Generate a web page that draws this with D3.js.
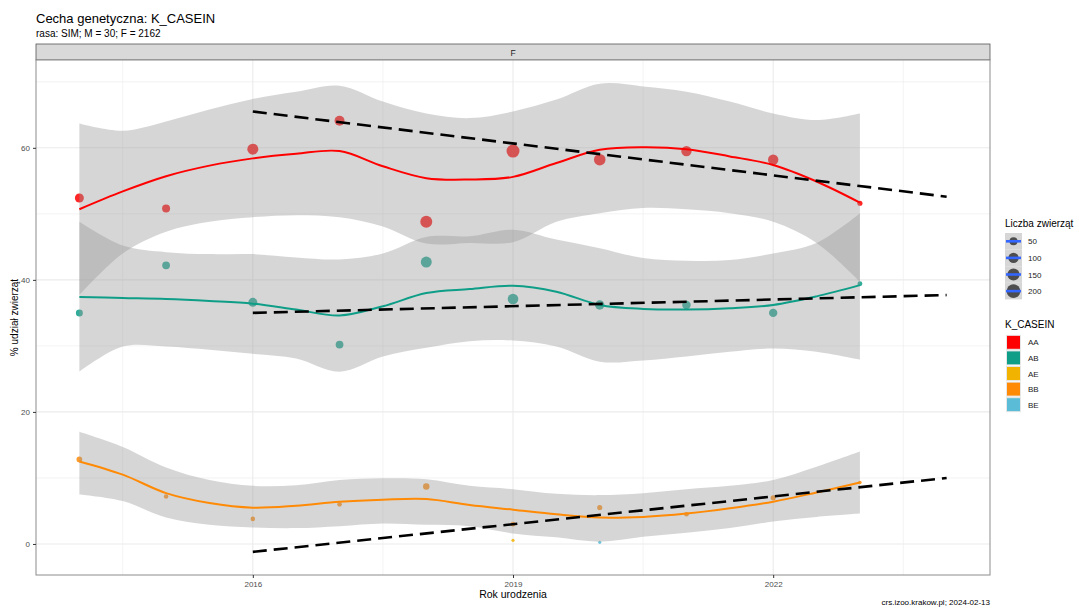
<!DOCTYPE html>
<html>
<head>
<meta charset="utf-8">
<script src="https://cdn.jsdelivr.net/npm/d3@7"></script>
<style>
  html, body { margin: 0; padding: 0; background: #fff; }
  svg { display: block; font-family: "Liberation Sans", Arial, sans-serif; }
</style>
</head>
<body>
<svg id="chart" width="1079" height="608"></svg>
<script>
// ---- data ----
const years = [2014, 2015, 2016, 2017, 2018, 2019, 2020, 2021, 2022, 2023];
const genotypes = ["AA", "AB", "AE", "BB", "BE"];
const genoColors = ["#FF0000", "#0E9E88", "#F2B200", "#FF8A05", "#5BBCD8"];

// yearly share (%) and head count per genotype
const pctAA = [52.4, 50.8, 59.8, 64.1, 48.8, 59.5, 58.2, 59.5, 58.2, 51.6];
const nAA   = [68, 49, 115, 90, 144, 175, 132, 100, 100, 12];
const pctAB = [35.0, 42.2, 36.6, 30.2, 42.7, 37.1, 36.2, 36.2, 35.0, 39.4];
const nAB   = [33, 45, 68, 45, 115, 105, 76, 58, 56, 10];
const pctBB = [12.8, 7.2, 3.8, 6.0, 8.7, 3.0, 5.5, 4.5, 7.0, 9.3];
const nBB   = [17, 7, 7, 8, 26, 9, 12, 8, 12, 2];
const yearsAE = [2019];
const pctAE = [0.55];
const nAE   = [1];
const yearsBE = [2020];
const pctBE = [0.25];
const nBE   = [1];

// loess fits with confidence band, evaluated every half year
const smoothX = [2014, 2014.5, 2015, 2015.5, 2016, 2016.5, 2017, 2017.5, 2018, 2018.5,
                 2019, 2019.5, 2020, 2020.5, 2021, 2021.5, 2022, 2022.5, 2023];
const fitAA = [50.7, 53.4, 55.7, 57.3, 58.4, 59.1, 59.5, 57.2, 55.4, 55.2,
               55.6, 57.7, 59.7, 60.1, 59.8, 58.7, 57.4, 54.9, 51.7];
const hiAA  = [63.7, 62.6, 64.0, 65.8, 67.4, 68.5, 69.4, 67.0, 65.2, 64.5,
               65.5, 67.3, 69.7, 69.3, 68.5, 67.0, 65.2, 64.2, 65.2];
const loAA  = [37.7, 44.0, 47.3, 48.8, 49.5, 49.8, 49.5, 48.1, 45.5, 45.6,
               45.7, 48.8, 50.1, 50.9, 50.7, 50.1, 48.8, 45.6, 39.7];
const fitAB = [37.4, 37.25, 37.1, 36.8, 36.4, 35.5, 34.6, 36.0, 38.0, 38.6,
               39.1, 38.2, 36.2, 35.6, 35.5, 35.7, 36.2, 37.5, 39.2];
const hiAB  = [48.8, 45.2, 44.2, 43.9, 43.9, 43.4, 43.1, 44.0, 46.5, 46.6,
               47.6, 46.1, 44.8, 43.3, 42.9, 43.0, 44.0, 45.6, 50.1];
const loAB  = [26.1, 29.9, 29.9, 29.4, 28.8, 28.1, 26.1, 28.4, 29.7, 30.7,
               30.8, 29.9, 27.6, 27.8, 28.4, 29.1, 29.6, 29.1, 27.9];
const fitBB = [12.5, 10.5, 7.7, 6.2, 5.5, 5.8, 6.4, 6.7, 6.8, 5.9,
               5.2, 4.5, 4.0, 4.1, 4.6, 5.4, 6.4, 7.8, 9.3];
const hiBB  = [17.0, 14.7, 11.6, 9.7, 8.8, 8.9, 9.7, 9.95, 9.8, 8.8,
               8.3, 7.6, 7.4, 7.7, 8.3, 8.8, 9.7, 11.7, 14.0];
const loBB  = [7.5, 6.5, 4.0, 2.9, 2.5, 2.4, 2.7, 3.1, 2.9, 2.7,
               1.6, 1.0, 0.35, 1.1, 1.7, 2.4, 3.4, 4.1, 4.6];

// linear trends (dashed)
const trendX  = [2016, 2024];
const trendAA = [65.5, 52.6];
const trendAB = [35.0, 37.7];
const trendBB = [-1.2, 10.0];

// axes
const xTicks = [2016, 2019, 2022];
const xMinor = [2014.5, 2017.5, 2020.5, 2023.5];
const yTicks = [0, 20, 40, 60];
const yMinor = [10, 30, 50, 70];
const sizeBreaks = [50, 100, 150, 200];

// ---- layout ----
const svg = d3.select("#chart");
const P = { left: 36, right: 990, top: 60, bottom: 575 };
const x = d3.scaleLinear().domain([2013.5, 2024.5]).range([P.left, P.right]);
const y = d3.scaleLinear().domain([-4.7, 73.3]).range([P.bottom, P.top]);
const r = d3.scaleSqrt().domain([0, 210]).range([1.2, 7]);
const smoothCurve = d3.curveCatmullRom.alpha(0.5);

// titles
svg.append("text").attr("x", 36).attr("y", 23).attr("font-size", 13)
  .attr("fill", "#000").text("Cecha genetyczna: K_CASEIN");
svg.append("text").attr("x", 36).attr("y", 37).attr("font-size", 10)
  .attr("fill", "#000").text("rasa: SIM; M = 30; F = 2162");

// facet strip
svg.append("rect").attr("x", P.left).attr("y", 44).attr("width", P.right - P.left)
  .attr("height", 16).attr("fill", "#D9D9D9").attr("stroke", "#555").attr("stroke-width", 0.8);
svg.append("text").attr("x", (P.left + P.right) / 2).attr("y", 55.5).attr("font-size", 8.5)
  .attr("text-anchor", "middle").attr("fill", "#1A1A1A").text("F");

// panel background and grid
const plot = svg.append("g");
plot.append("rect").attr("x", P.left).attr("y", P.top).attr("width", P.right - P.left)
  .attr("height", P.bottom - P.top).attr("fill", "#fff");
const grid = plot.append("g").attr("stroke", "#EBEBEB");
grid.selectAll(".ym").data(yMinor).join("line")
  .attr("x1", P.left).attr("x2", P.right).attr("y1", d => y(d)).attr("y2", d => y(d)).attr("stroke-width", 0.6);
grid.selectAll(".xm").data(xMinor).join("line")
  .attr("y1", P.top).attr("y2", P.bottom).attr("x1", d => x(d)).attr("x2", d => x(d)).attr("stroke-width", 0.6);
grid.selectAll(".yM").data(yTicks).join("line")
  .attr("x1", P.left).attr("x2", P.right).attr("y1", d => y(d)).attr("y2", d => y(d)).attr("stroke-width", 1.1);
grid.selectAll(".xM").data(xTicks).join("line")
  .attr("y1", P.top).attr("y2", P.bottom).attr("x1", d => x(d)).attr("x2", d => x(d)).attr("stroke-width", 1.1);

// points (drawn beneath the confidence bands)
const pointSets = [
  { yrs: years, pct: pctAA, n: nAA, col: genoColors[0] },
  { yrs: years, pct: pctAB, n: nAB, col: genoColors[1] },
  { yrs: yearsAE, pct: pctAE, n: nAE, col: genoColors[2] },
  { yrs: years, pct: pctBB, n: nBB, col: genoColors[3] },
  { yrs: yearsBE, pct: pctBE, n: nBE, col: genoColors[4] }
];
const pts = plot.append("g");
pointSets.forEach(s => {
  pts.selectAll(null).data(s.yrs.map((yr, i) => ({ yr, v: s.pct[i], n: s.n[i] })))
    .join("circle")
    .attr("cx", d => x(d.yr)).attr("cy", d => y(d.v)).attr("r", d => r(d.n))
    .attr("fill", s.col).attr("fill-opacity", 0.85);
});

// confidence bands
const bands = [
  { hi: hiAA, lo: loAA }, { hi: hiAB, lo: loAB }, { hi: hiBB, lo: loBB }
];
const area = d3.area().x(d => x(d.x)).y0(d => y(d.lo)).y1(d => y(d.hi)).curve(smoothCurve);
bands.forEach(b => {
  plot.append("path")
    .datum(smoothX.map((sx, i) => ({ x: sx, lo: b.lo[i], hi: b.hi[i] })))
    .attr("d", area).attr("fill", "#999999").attr("fill-opacity", 0.4);
});

// smoothed lines
const line = d3.line().x(d => x(d.x)).y(d => y(d.v)).curve(smoothCurve);
[[fitAA, genoColors[0]], [fitAB, genoColors[1]], [fitBB, genoColors[3]]].forEach(([f, c]) => {
  plot.append("path").datum(smoothX.map((sx, i) => ({ x: sx, v: f[i] })))
    .attr("d", line).attr("fill", "none").attr("stroke", c).attr("stroke-width", 2);
});

// linear trends
const tline = d3.line().x(d => x(d.x)).y(d => y(d.v));
[trendAA, trendAB, trendBB].forEach(t => {
  plot.append("path").datum(trendX.map((tx, i) => ({ x: tx, v: t[i] })))
    .attr("d", tline).attr("fill", "none").attr("stroke", "#000")
    .attr("stroke-width", 2.6).attr("stroke-dasharray", "14,7");
});

// panel border
svg.append("rect").attr("x", P.left).attr("y", P.top).attr("width", P.right - P.left)
  .attr("height", P.bottom - P.top).attr("fill", "none").attr("stroke", "#8C8C8C").attr("stroke-width", 1);

// axes
const xAxis = svg.append("g").attr("transform", `translate(0,${P.bottom})`)
  .call(d3.axisBottom(x).tickValues(xTicks).tickFormat(d3.format("d")).tickSize(3).tickPadding(3));
const yAxis = svg.append("g").attr("transform", `translate(${P.left},0)`)
  .call(d3.axisLeft(y).tickValues(yTicks).tickSize(3).tickPadding(3));
[xAxis, yAxis].forEach(a => {
  a.select(".domain").remove();
  a.selectAll(".tick line").attr("stroke", "#333");
  a.selectAll(".tick text").attr("fill", "#4D4D4D").attr("font-size", 8)
    .attr("font-family", "Liberation Sans, Arial, sans-serif");
});

svg.append("text").attr("x", (P.left + P.right) / 2).attr("y", 598).attr("font-size", 10.5)
  .attr("text-anchor", "middle").attr("fill", "#000").text("Rok urodzenia");
svg.append("text").attr("transform", `translate(18,${(P.top + P.bottom) / 2}) rotate(-90)`)
  .attr("font-size", 10).attr("text-anchor", "middle").attr("fill", "#000").text("% udział zwierząt");

svg.append("text").attr("x", 990).attr("y", 605).attr("font-size", 8)
  .attr("text-anchor", "end").attr("fill", "#000").text("crs.izoo.krakow.pl; 2024-02-13");

// legend: head count
const lg1 = svg.append("g");
lg1.append("text").attr("x", 1005).attr("y", 227).attr("font-size", 10).attr("fill", "#000")
  .text("Liczba zwierząt");
const keyH = 16.6;
sizeBreaks.forEach((b, i) => {
  const ky = 233 + i * keyH;
  lg1.append("rect").attr("x", 1005).attr("y", ky).attr("width", 17).attr("height", keyH)
    .attr("fill", "#D6D6D6");
  lg1.append("circle").attr("cx", 1013.5).attr("cy", ky + keyH / 2).attr("r", r(b))
    .attr("fill", "#4D4D4D");
  lg1.append("line").attr("x1", 1006).attr("x2", 1021).attr("y1", ky + keyH / 2).attr("y2", ky + keyH / 2)
    .attr("stroke", "#3366FF").attr("stroke-width", 2.6);
  lg1.append("text").attr("x", 1028).attr("y", ky + keyH / 2 + 3).attr("font-size", 8)
    .attr("fill", "#1A1A1A").text(b);
});

// legend: genotype
const lg2 = svg.append("g");
lg2.append("text").attr("x", 1005).attr("y", 328).attr("font-size", 10).attr("fill", "#000")
  .text("K_CASEIN");
genotypes.forEach((g, i) => {
  const cy = 342.3 + i * 15.6;
  lg2.append("rect").attr("x", 1006.5).attr("y", cy - 7).attr("width", 14).attr("height", 14)
    .attr("fill", genoColors[i]).attr("stroke", "#E6E6E6").attr("stroke-width", 1);
  lg2.append("text").attr("x", 1028).attr("y", cy + 3).attr("font-size", 8)
    .attr("fill", "#1A1A1A").text(g);
});
</script>
</body>
</html>
